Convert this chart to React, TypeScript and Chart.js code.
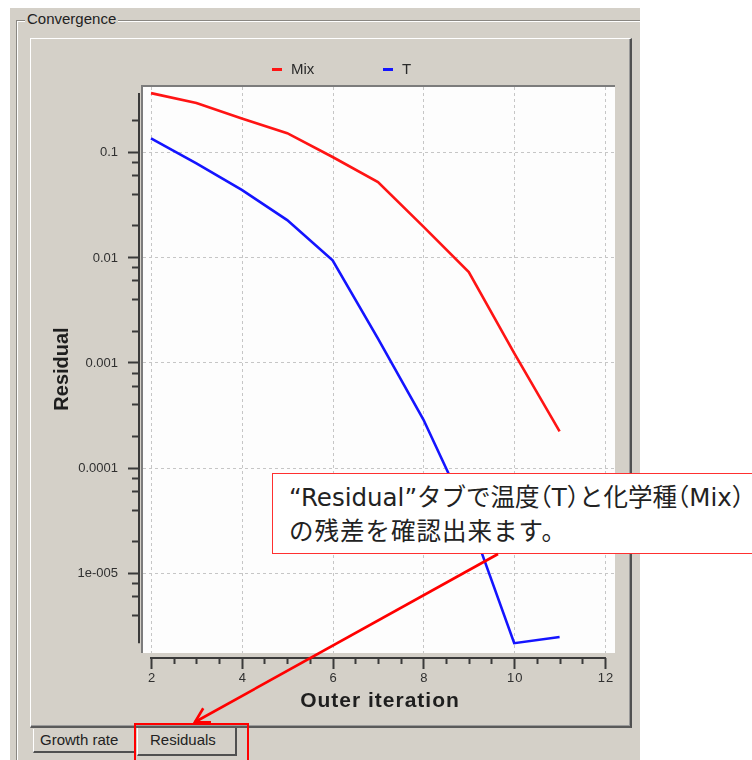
import React, { useEffect, useRef } from "react";
import { Chart, registerables } from "chart.js";

Chart.register(...registerables);

// ---------- data ----------
const ITERATIONS = [2, 3, 4, 5, 6, 7, 8, 9, 10, 11];
const MIX_RESIDUALS = [0.36, 0.29, 0.207, 0.15, 0.089, 0.0515, 0.0194, 0.0072, 0.00122, 0.000221];
const T_RESIDUALS = [0.134, 0.0776, 0.0433, 0.0224, 0.0093, 0.00168, 0.000286, 0.000034, 0.00000215, 0.00000246];
const SERIES_LABELS = ["Mix", "T"];
const SERIES_COLORS = ["#ff1414", "#1414ff"];

const X_MAJOR_TICKS = [2, 4, 6, 8, 10, 12];
const X_TICK_LABELS = ["2", "4", "6", "8", "10", "12"];
const X_MINOR_TICKS = [2.5, 3, 3.5, 4.5, 5, 5.5, 6.5, 7, 7.5, 8.5, 9, 9.5, 10.5, 11, 11.5];
const Y_MAJOR_TICKS = [0.1, 0.01, 0.001, 0.0001, 0.00001];
const Y_TICK_LABELS = ["0.1", "0.01", "0.001", "0.0001", "1e-005"];
const Y_MINOR_TICKS = [
  0.4, 0.2, 0.08, 0.06, 0.04, 0.02, 0.008, 0.006, 0.004, 0.002, 0.0008, 0.0006, 0.0004, 0.0002,
  0.00008, 0.00006, 0.00004, 0.00002, 0.000008, 0.000006, 0.000004, 0.000002,
];
const X_TITLE = "Outer iteration";
const Y_TITLE = "Residual";
const PANEL_TITLE = "Convergence";
const TAB_LABELS = ["Growth rate", "Residuals"];

const GRAY = "#d4d0c8";
const AXIS = "#3a3a3a";
const FONT = '"Liberation Sans", Arial, sans-serif';

const chromePlugin = {
  id: "residualChrome",
  beforeDatasetsDraw(chart: any) {
    const { ctx, chartArea: a } = chart;
    const xs = chart.scales.x;
    const ys = chart.scales.y;
    ctx.save();
    ctx.fillStyle = "#fdfdfd";
    ctx.fillRect(a.left, a.top, a.right - a.left, a.bottom - a.top);
    ctx.strokeStyle = "#c6c6c6";
    ctx.lineWidth = 1;
    ctx.setLineDash([3, 3]);
    ctx.beginPath();
    for (const v of X_MAJOR_TICKS) {
      const x = Math.round(xs.getPixelForValue(v)) + 0.5;
      ctx.moveTo(x, a.top);
      ctx.lineTo(x, a.bottom);
    }
    for (const v of Y_MAJOR_TICKS) {
      const y = Math.round(ys.getPixelForValue(v)) + 0.5;
      ctx.moveTo(a.left, y);
      ctx.lineTo(a.right, y);
    }
    ctx.stroke();
    ctx.setLineDash([]);
    ctx.strokeStyle = "#7c7c7c";
    ctx.lineWidth = 2;
    ctx.beginPath();
    ctx.moveTo(a.left - 1, a.bottom);
    ctx.lineTo(a.left - 1, a.top - 1);
    ctx.lineTo(a.right, a.top - 1);
    ctx.stroke();
    ctx.restore();
  },
  afterDatasetsDraw(chart: any) {
    const { ctx, chartArea: a } = chart;
    const xs = chart.scales.x;
    const ys = chart.scales.y;
    ctx.save();
    ctx.strokeStyle = AXIS;
    ctx.fillStyle = "#303030";
    ctx.lineWidth = 2;

    // ---- Y axis ----
    const all = [...MIX_RESIDUALS, ...T_RESIDUALS];
    const yMax = Math.max(...all);
    const yMin = Math.min(...all);
    const yTop = ys.getPixelForValue(yMax);
    const yBot = ys.getPixelForValue(yMin);
    const axX = a.left - 4;
    ctx.beginPath();
    ctx.moveTo(axX, yTop);
    ctx.lineTo(axX, yBot);
    for (const v of Y_MAJOR_TICKS) {
      const y = Math.round(ys.getPixelForValue(v)) + 0.5;
      ctx.moveTo(axX - 11, y);
      ctx.lineTo(axX, y);
    }
    for (const v of Y_MINOR_TICKS) {
      if (v > yMax || v < yMin) continue;
      const y = Math.round(ys.getPixelForValue(v)) + 0.5;
      ctx.moveTo(axX - 7, y);
      ctx.lineTo(axX, y);
    }
    ctx.stroke();
    ctx.font = `13px ${FONT}`;
    ctx.textAlign = "right";
    ctx.textBaseline = "middle";
    Y_MAJOR_TICKS.forEach((v, i) => {
      ctx.fillText(Y_TICK_LABELS[i], axX - 21, ys.getPixelForValue(v) + 1);
    });

    // ---- X axis ----
    const axY = a.bottom + 5;
    const x0 = xs.getPixelForValue(X_MAJOR_TICKS[0]);
    const x1 = xs.getPixelForValue(X_MAJOR_TICKS[X_MAJOR_TICKS.length - 1]);
    ctx.beginPath();
    ctx.moveTo(x0 - 1, axY);
    ctx.lineTo(x1 + 1, axY);
    for (const v of X_MAJOR_TICKS) {
      const x = Math.round(xs.getPixelForValue(v)) + 0.5;
      ctx.moveTo(x, axY);
      ctx.lineTo(x, axY + 11);
    }
    for (const v of X_MINOR_TICKS) {
      const x = Math.round(xs.getPixelForValue(v)) + 0.5;
      ctx.moveTo(x, axY);
      ctx.lineTo(x, axY + 6);
    }
    ctx.stroke();
    ctx.textAlign = "center";
    ctx.textBaseline = "middle";
    (ctx as any).letterSpacing = "1px";
    X_MAJOR_TICKS.forEach((v, i) => {
      ctx.fillText(X_TICK_LABELS[i], xs.getPixelForValue(v) + 1, axY + 20);
    });

    // ---- titles ----
    ctx.fillStyle = "#1e1e1e";
    ctx.font = `bold 21px ${FONT}`;
    ctx.fillText(X_TITLE, (a.left + a.right) / 2 + 1, axY + 43);
    (ctx as any).letterSpacing = "0px";
    ctx.save();
    ctx.translate(62, (a.top + a.bottom) / 2 - 1);
    ctx.rotate(-Math.PI / 2);
    ctx.font = `bold 20px ${FONT}`;
    ctx.fillText(Y_TITLE, 0, 0);
    ctx.restore();

    // ---- legend ----
    const legendX = [272, 383];
    const legendY = 69.5;
    ctx.font = `15px ${FONT}`;
    ctx.textAlign = "left";
    chart.data.datasets.forEach((ds: any, i: number) => {
      ctx.strokeStyle = ds.borderColor;
      ctx.lineWidth = 3;
      ctx.beginPath();
      ctx.moveTo(legendX[i], legendY);
      ctx.lineTo(legendX[i] + 10, legendY);
      ctx.stroke();
      ctx.fillStyle = "#2a2a2a";
      ctx.fillText(ds.label, legendX[i] + 19, legendY);
    });
    ctx.restore();
  },
};

function ResidualChart() {
  const ref = useRef<HTMLCanvasElement | null>(null);
  useEffect(() => {
    if (!ref.current) return;
    const series = [MIX_RESIDUALS, T_RESIDUALS];
    const chart = new Chart(ref.current, {
      type: "line",
      data: {
        datasets: series.map((vals, i) => ({
          label: SERIES_LABELS[i],
          data: ITERATIONS.map((x, j) => ({ x, y: vals[j] })),
          borderColor: SERIES_COLORS[i],
          backgroundColor: SERIES_COLORS[i],
          borderWidth: 2.6,
          pointRadius: 0,
          tension: 0,
          fill: false,
        })),
      },
      options: {
        animation: false,
        responsive: false,
        devicePixelRatio: 1,
        layout: { padding: { left: 143, top: 87, right: 137, bottom: 107 } },
        plugins: { legend: { display: false }, tooltip: { enabled: false } },
        scales: {
          x: { type: "linear", display: false, min: 1.8238, max: 12.2203 },
          y: { type: "logarithmic", display: false, min: 1.735e-6, max: 0.4115 },
        },
      },
      plugins: [chromePlugin],
    } as any);
    return () => chart.destroy();
  }, []);
  return (
    <canvas
      ref={ref}
      width={752}
      height={760}
      style={{ position: "absolute", left: 0, top: 0, width: 752, height: 760, zIndex: 1 }}
    />
  );
}

export default function App() {
  // arrow geometry
  const sx = 498, sy = 554, tx = 195, ty = 722;
  const len = Math.hypot(sx - tx, sy - ty);
  const ux = (sx - tx) / len, uy = (sy - ty) / len;
  const head = 16, ang = Math.PI / 6;
  const h1x = tx + head * (ux * Math.cos(ang) - uy * Math.sin(ang));
  const h1y = ty + head * (ux * Math.sin(ang) + uy * Math.cos(ang));
  const h2x = tx + head * (ux * Math.cos(-ang) - uy * Math.sin(-ang));
  const h2y = ty + head * (ux * Math.sin(-ang) + uy * Math.cos(-ang));
  const halt = { fontFeatureSettings: '"halt"' };

  return (
    <div
      style={{
        position: "absolute",
        left: 0,
        top: 0,
        width: 752,
        height: 760,
        overflow: "hidden",
        background: "#ffffff",
        fontFamily: FONT,
      }}
    >
      {/* window panel */}
      <div
        style={{
          position: "absolute",
          left: 10,
          top: 8,
          width: 630,
          height: 760,
          background: GRAY,
          overflow: "hidden",
          zIndex: 0,
        }}
      >
        {/* group box */}
        <div
          style={{
            position: "absolute",
            left: 6,
            top: 12,
            width: 700,
            height: 800,
            border: "1px solid #8a8782",
            boxShadow: "inset 1px 1px 0 #ffffff, 1px 1px 0 #ffffff",
          }}
        />
        <div
          style={{
            position: "absolute",
            left: 15,
            top: 3,
            padding: "0 2px",
            background: GRAY,
            fontSize: 15,
            lineHeight: "16px",
            color: "#222",
          }}
        >
          {PANEL_TITLE}
        </div>
        {/* tab page */}
        <div
          style={{
            position: "absolute",
            left: 20,
            top: 30,
            width: 602,
            height: 690,
            boxSizing: "border-box",
            borderTop: "1px solid #ffffff",
            borderLeft: "1px solid #ffffff",
            borderRight: "2px solid #505050",
            borderBottom: "2px solid #5a5a5a",
            boxShadow: "inset -1px -1px 0 #9a9a9a",
          }}
        />
        {/* tabs */}
        <div
          style={{
            position: "absolute",
            left: 23,
            top: 721,
            width: 103,
            height: 24,
            boxSizing: "border-box",
            borderLeft: "1px solid #ffffff",
            borderRight: "2px solid #505050",
            borderBottom: "2px solid #505050",
            fontSize: 15,
            lineHeight: "22px",
            paddingLeft: 6,
            color: "#222",
          }}
        >
          {TAB_LABELS[0]}
        </div>
        <div
          style={{
            position: "absolute",
            left: 127,
            top: 720,
            width: 100,
            height: 28,
            boxSizing: "border-box",
            borderLeft: "1px solid #ffffff",
            borderRight: "2px solid #505050",
            borderBottom: "2px solid #505050",
            fontSize: 15,
            lineHeight: "24px",
            paddingLeft: 12,
            color: "#222",
          }}
        >
          {TAB_LABELS[1]}
        </div>
      </div>

      <ResidualChart />

      {/* highlight around Residuals tab */}
      <div
        style={{
          position: "absolute",
          left: 134,
          top: 723,
          width: 115,
          height: 50,
          boxSizing: "border-box",
          border: "2.5px solid #ff0000",
          zIndex: 2,
        }}
      />

      {/* callout */}
      <div
        style={{
          position: "absolute",
          left: 272,
          top: 473,
          width: 520,
          height: 81,
          boxSizing: "border-box",
          border: "1.5px solid #ff3030",
          background: "#ffffff",
          padding: "7px 0 0 16px",
          fontFamily: '"DejaVu Sans", "Noto Sans CJK JP", sans-serif',
          fontSize: 24.5,
          lineHeight: "34px",
          color: "#222222",
          whiteSpace: "nowrap",
          zIndex: 2,
        }}
      >
        <div>
          “Residual”タブで温度<span style={halt}>（</span>T<span style={halt}>）</span>と化学種
          <span style={halt}>（</span>Mix<span style={halt}>）</span>
        </div>
        <div style={{ letterSpacing: "1px" }}>の残差を確認出来ます。</div>
      </div>

      <svg
        width={752}
        height={760}
        style={{ position: "absolute", left: 0, top: 0, zIndex: 3, pointerEvents: "none" }}
      >
        <line x1={sx} y1={sy} x2={tx} y2={ty} stroke="#ff0000" strokeWidth={2.6} />
        <polyline
          points={`${h1x},${h1y} ${tx},${ty} ${h2x},${h2y}`}
          fill="none"
          stroke="#ff0000"
          strokeWidth={2.6}
        />
      </svg>
    </div>
  );
}
